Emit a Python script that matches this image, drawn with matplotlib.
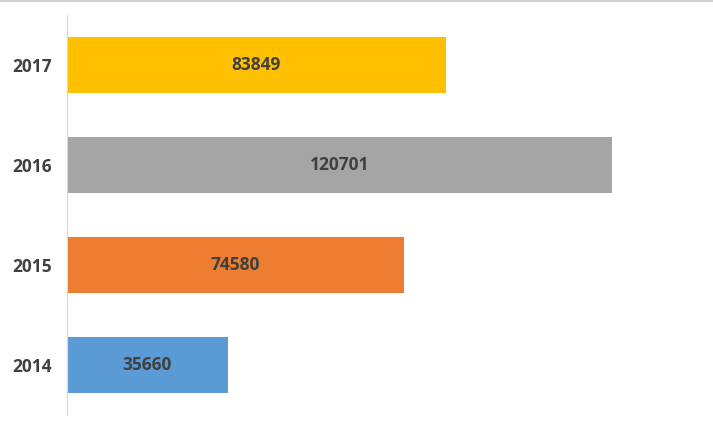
import matplotlib
matplotlib.use("Agg")
import matplotlib.pyplot as plt

years = ["2014", "2015", "2016", "2017"]
values = [35660, 74580, 120701, 83849]
colors = ["#5B9BD5", "#ED7D31", "#A5A5A5", "#FFC000"]

plt.rcParams['font.family'] = ['Open Sans', 'DejaVu Sans']

W, H = 713, 423
fig = plt.figure(figsize=(W / 100, H / 100), dpi=100)
ax = fig.add_axes([67 / W, 8 / H, 632 / W, 400 / H])

pos = range(len(years))
bars = ax.barh(pos, values, height=0.56, color=colors)
for b, v in zip(bars, values):
    ax.text(v / 2, b.get_y() + b.get_height() / 2, str(v), ha="center", va="center",
            fontsize=12.5, fontweight="bold", color="#404040")

ax.set_xlim(0, 140000)
ax.set_ylim(-0.5, 3.5)
ax.set_yticks(list(pos))
ax.set_yticklabels(years, fontsize=12.5, fontweight="bold", color="#404040")
ax.tick_params(axis="y", length=0, pad=11)
ax.set_xticks([])
for s in ["top", "right", "bottom"]:
    ax.spines[s].set_visible(False)
ax.spines["left"].set_color("#D9D9D9")

# thin top border line across the figure
fig.add_artist(plt.Line2D([0, 1], [1 - 1 / H, 1 - 1 / H], color="#D0D0D0", lw=1.5,
                          transform=fig.transFigure))

fig.savefig("out.png", dpi=100)
